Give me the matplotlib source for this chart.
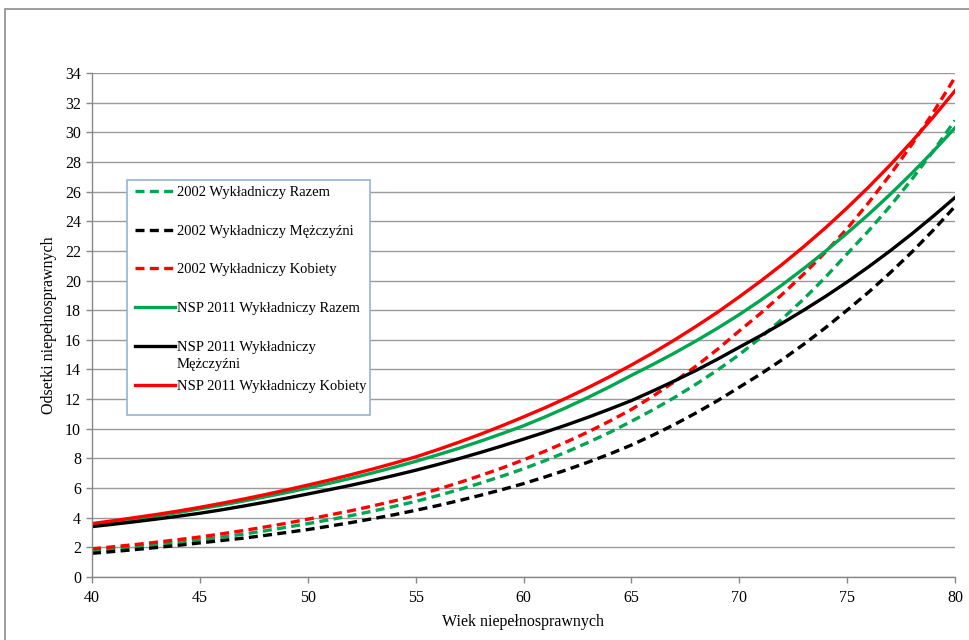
import matplotlib
matplotlib.use("Agg")
import matplotlib.pyplot as plt
from matplotlib.patches import Rectangle

plt.rcParams['font.family'] = ['Liberation Serif', 'DejaVu Serif']

ages = list(range(40, 81))

w2002_razem = [1.80, 1.92, 2.05, 2.19, 2.34, 2.50, 2.69, 2.89, 3.11, 3.35, 3.60,
               3.86, 4.14, 4.44, 4.76, 5.10, 5.48, 5.89, 6.33, 6.80, 7.30,
               7.85, 8.44, 9.08, 9.76, 10.50, 11.28, 12.11, 13.01, 13.97, 15.00,
               16.16, 17.42, 18.77, 20.23, 21.80, 23.36, 25.03, 26.83, 28.75, 30.80]
w2002_mezczyzni = [1.60, 1.72, 1.85, 1.99, 2.14, 2.30, 2.46, 2.62, 2.80, 3.00, 3.20,
                   3.43, 3.67, 3.93, 4.20, 4.50, 4.81, 5.15, 5.51, 5.89, 6.30,
                   6.75, 7.23, 7.75, 8.30, 8.90, 9.57, 10.29, 11.07, 11.90, 12.80,
                   13.70, 14.67, 15.71, 16.82, 18.00, 19.22, 20.53, 21.92, 23.41, 25.00]
w2002_kobiety = [1.90, 2.04, 2.19, 2.35, 2.52, 2.70, 2.91, 3.13, 3.37, 3.62, 3.90,
                 4.18, 4.47, 4.79, 5.13, 5.50, 5.91, 6.36, 6.84, 7.35, 7.90,
                 8.49, 9.12, 9.79, 10.52, 11.30, 12.20, 13.18, 14.23, 15.37, 16.60,
                 17.80, 19.08, 20.45, 21.92, 23.50, 25.26, 27.15, 29.18, 31.36, 33.70]
nsp_razem = [3.50, 3.70, 3.90, 4.12, 4.35, 4.60, 4.85, 5.12, 5.40, 5.69, 6.00,
             6.32, 6.66, 7.02, 7.40, 7.80, 8.23, 8.68, 9.16, 9.67, 10.20,
             10.80, 11.44, 12.12, 12.84, 13.60, 14.34, 15.11, 15.93, 16.79, 17.70,
             18.68, 19.72, 20.82, 21.98, 23.20, 24.47, 25.82, 27.24, 28.73, 30.30]
nsp_mezczyzni = [3.40, 3.56, 3.73, 3.91, 4.10, 4.30, 4.53, 4.78, 5.04, 5.31, 5.60,
                 5.89, 6.19, 6.51, 6.85, 7.20, 7.58, 7.98, 8.40, 8.84, 9.30,
                 9.77, 10.26, 10.78, 11.33, 11.90, 12.55, 13.23, 13.94, 14.70, 15.50,
                 16.29, 17.13, 18.01, 18.93, 19.90, 20.93, 22.01, 23.15, 24.35, 25.60]
nsp_kobiety = [3.60, 3.80, 4.01, 4.22, 4.45, 4.70, 4.97, 5.25, 5.55, 5.87, 6.20,
               6.54, 6.90, 7.28, 7.68, 8.10, 8.58, 9.09, 9.63, 10.20, 10.80,
               11.42, 12.08, 12.78, 13.52, 14.30, 15.12, 15.99, 16.91, 17.87, 18.90,
               19.97, 21.10, 22.30, 23.56, 24.90, 26.31, 27.80, 29.38, 31.04, 32.80]

labels = ["2002 Wykładniczy Razem",
          "2002 Wykładniczy Mężczyźni",
          "2002 Wykładniczy Kobiety",
          "NSP 2011 Wykładniczy Razem",
          "NSP 2011 Wykładniczy",
          "NSP 2011 Wykładniczy Kobiety"]
label_wrap = "Mężczyźni"

x_ticks = [40, 45, 50, 55, 60, 65, 70, 75, 80]
y_ticks = list(range(0, 35, 2))

GREEN = "#00a650"
RED = "#ff0000"
BLACK = "#000000"

W, H = 969, 640
fig = plt.figure(figsize=(W / 100, H / 100), dpi=100)
ax = fig.add_axes([92 / W, 1 - 577 / H, (955 - 92) / W, (577 - 73) / H])

dash = (0, (2.7, 1.6))
lw = 2.4
ax.plot(ages, w2002_razem, color=GREEN, lw=lw, linestyle=dash, label=labels[0])
ax.plot(ages, w2002_mezczyzni, color=BLACK, lw=lw, linestyle=dash, label=labels[1])
ax.plot(ages, w2002_kobiety, color=RED, lw=lw, linestyle=dash, label=labels[2])
ax.plot(ages, nsp_razem, color=GREEN, lw=lw, label=labels[3])
ax.plot(ages, nsp_mezczyzni, color=BLACK, lw=lw, label=labels[4])
ax.plot(ages, nsp_kobiety, color=RED, lw=lw, label=labels[5])

ax.set_xlim(40, 80)
ax.set_ylim(0, 34)
ax.set_xticks(x_ticks)
ax.set_yticks(y_ticks)
ax.tick_params(axis='both', labelsize=11.5, color="#888888", length=4, width=1)
ax.tick_params(axis='x', pad=5)
ax.tick_params(axis='y', pad=4)
ax.grid(axis='y', color="#9a9a9a", lw=1)
ax.set_axisbelow(True)
for s in ("top", "right"):
    ax.spines[s].set_visible(False)
for s in ("left", "bottom"):
    ax.spines[s].set_color("#888888")
    ax.spines[s].set_linewidth(1)

ax.set_xlabel("Wiek niepełnosprawnych", fontsize=11.5, labelpad=6)
ax.set_ylabel("Odsetki niepełnosprawnych", fontsize=11.5, labelpad=6)

# legend box (frame drawn separately so its padding can be uneven)
box_x0, box_y0 = (127 - 92) / 863, (577 - 415) / 504
box_w, box_h = 243 / 863, 235 / 504
ax.add_patch(Rectangle((box_x0, box_y0), box_w, box_h, transform=ax.transAxes,
                       facecolor="white", edgecolor="#95b3d7", lw=1.2, zorder=4))

leg = ax.legend(loc="upper left", bbox_to_anchor=(box_x0 + 0.002, box_y0 + box_h),
                fontsize=10.5, frameon=False,
                labelspacing=1.75, handlelength=2.75, handletextpad=0.15,
                borderpad=0.4, borderaxespad=0)
leg.set_zorder(5)

fig.canvas.draw()
bb = leg.get_texts()[4].get_window_extent()
fig.text(bb.x0 / W, (bb.y0 - 17) / H, label_wrap, fontsize=10.5,
         ha="left", va="bottom", zorder=6)

fig.patches.append(Rectangle((5 / W, -0.1), 1.2, 1.1 - 9 / H,
                             transform=fig.transFigure, fill=False,
                             edgecolor="#8c8c8c", lw=1.2, clip_on=False))

fig.savefig("out.png", dpi=100)
